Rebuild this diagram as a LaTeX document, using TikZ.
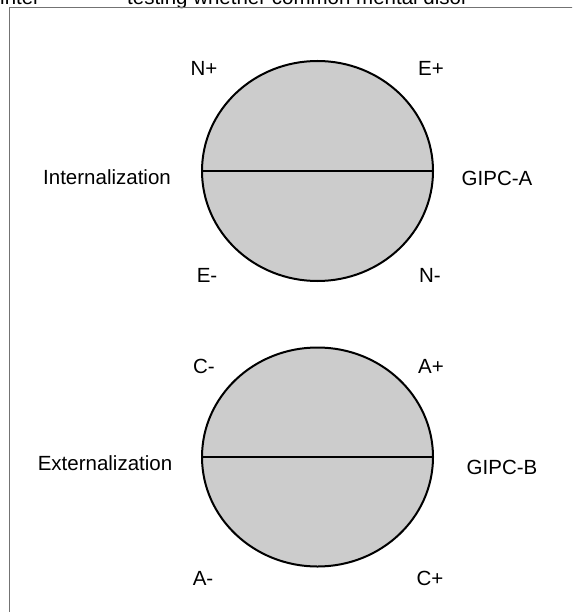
\documentclass[tikz,border=0pt]{standalone}
\usepackage{fontspec}
\setmainfont{Liberation Sans}
\usetikzlibrary{shapes.geometric}
\begin{document}
\begin{tikzpicture}[x=1pt,y=-1pt]
    \tikzset{every node/.style={font=\fontsize{20.5}{24}\selectfont},
    blob/.style={draw,ellipse,fill=black!20,line width=2pt,
      minimum width=231pt,minimum height=220pt,inner sep=0pt},
    split/.style={line width=2pt},
    frameline/.style={draw=black!55,line width=1pt}}
    \useasboundingbox (0,0) rectangle (572,612);
    \clip (0,0) rectangle (572,612);
    \node[anchor=base west,inner sep=0pt] (capa) at (0,5) {inter};
    \node[anchor=base west,inner sep=0pt] (capb) at (127,5) {testing whether common mental disor};
    \coordinate (fbl) at (9,614);
    \coordinate (ftl) at (9,8);
    \coordinate (ftr) at (574,8);
    \draw[frameline] (fbl) -- (ftl) -- (ftr);
    \node[blob] (gipca) at (317.5,171) {};
    \draw[split] (gipca.west) -- (gipca.east);
    \node[blob,minimum height=219pt] (gipcb) at (317.5,457) {};
    \draw[split] (gipcb.west) -- (gipcb.east);
    \node (nplus) at (204,68) {N+};
    \node (eplus) at (431,68) {E+};
    \node (intern) at (107,177) {Internalization};
    \node (lbla) at (497,178) {GIPC-A};
    \node (eminus) at (207,275) {E-};
    \node (nminus) at (430,275) {N-};
    \node (cminus) at (204,366) {C-};
    \node (aplus) at (431,366) {A+};
    \node (extern) at (105,463) {Externalization};
    \node (lblb) at (502,467) {GIPC-B};
    \node (aminus) at (203,578) {A-};
    \node (cplus) at (430,578) {C+};
\end{tikzpicture}
\end{document}
